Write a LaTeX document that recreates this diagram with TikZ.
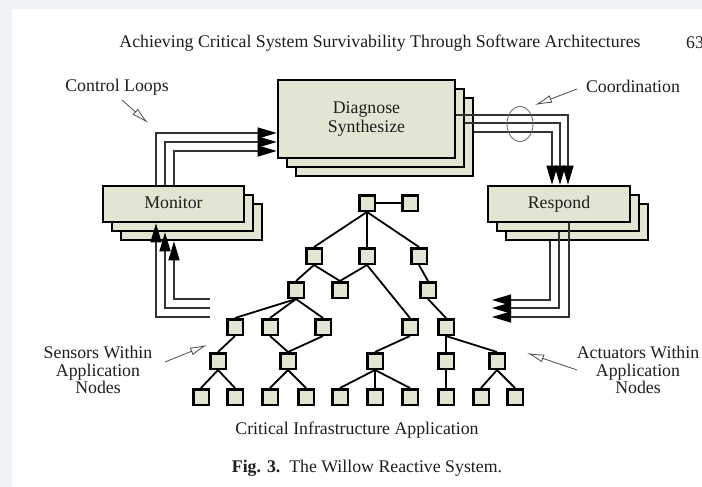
\documentclass[tikz,border=0pt]{standalone}
\usepackage{fontspec}
\setmainfont{Liberation Serif}
\usetikzlibrary{arrows.meta,shapes.geometric,calc}
\definecolor{bgc}{RGB}{238,243,248}
\definecolor{boxc}{RGB}{228,228,210}
\definecolor{txt}{RGB}{30,30,30}
\begin{document}
\begin{tikzpicture}[x=1pt,y=-1pt,
  lbl/.style={font=\fontsize{17.8}{17.5}\selectfont, align=center, inner sep=0pt, text=txt},
  bigbox/.style={draw=black, line width=2.6pt, fill=boxc, inner sep=0pt, text=txt,
                 font=\fontsize{17.8}{18.5}\selectfont, align=center},
  diagbox/.style={bigbox, minimum width=177pt, minimum height=78pt},
  smallbox/.style={bigbox, minimum width=142pt, minimum height=36pt},
  tn/.style={draw=black, line width=2.5pt, fill=boxc, minimum size=15.5pt, inner sep=0pt},
  edge/.style={line width=1.8pt, black},
  loopl/.style={line width=1.2pt, draw=black!80, -{Triangle[length=19pt,width=11pt,black]}},
  callout/.style={line width=0.8pt, draw=black!70, -{Latex[open,length=17pt,width=8pt]}},
]
\fill[bgc] (0,0) rectangle (702,487);
\fill[white] (12,9) rectangle (702,487);
\useasboundingbox (0,0) rectangle (702,487);

% texts
\node[lbl] (hdr) at (380,43) {Achieving Critical System Survivability Through Software Architectures};
\node[lbl, anchor=west] (pg) at (686,43) {63};
\node[lbl] (cl) at (117,87) {Control Loops};
\node[lbl] (co) at (633,86) {Coordination};
\node[lbl] (sn) at (98,370) {Sensors Within\\Application\\Nodes};
\node[lbl] (ac) at (638,370) {Actuators Within\\Application\\Nodes};
\node[lbl] (cia) at (357,430) {Critical Infrastructure Application};
\node[lbl] (fig) at (367,468) {\textbf{Fig. 3.}\ \ The Willow Reactive System.};

% stacked boxes
\node[diagbox] (dg3) at (384.5,137) {};
\node[diagbox] (dg2) at (375.5,128) {};
\node[diagbox] (dg1) at (366.5,119) {\raisebox{3pt}{\shortstack{Diagnose\\Synthesize}}};
\node[smallbox, minimum width=141pt] (mn3) at (191.5,222) {};
\node[smallbox, minimum width=141pt] (mn2) at (182.5,213) {};
\node[smallbox, minimum width=141pt] (mn1) at (173.5,204) {\raisebox{2pt}{Monitor}};
\node[smallbox] (rs3) at (577,222) {};
\node[smallbox] (rs2) at (568,213) {};
\node[smallbox] (rs1) at (559,204) {\raisebox{2pt}{Respond}};

% loop coordinates
\coordinate (cl1) at (156,133);
\coordinate (cl2) at (165,142);
\coordinate (cl3) at (174,151);
\coordinate (s1) at (210,317);
\coordinate (s2) at (210,308);
\coordinate (s3) at (210,299);
\coordinate (r1) at (568,115);
\coordinate (r2) at (560,123);
\coordinate (r3) at (552,132);
\coordinate (q1) at (569,317);
\coordinate (q2) at (559,308);
\coordinate (q3) at (550,300);
\coordinate (e1) at (492,317);
\coordinate (e2) at (492,308);
\coordinate (e3) at (492,300);

% monitor -> diagnose
\draw[loopl] (mn1.north -| cl1) |- (dg1.west |- cl1);
\draw[loopl] (mn1.north -| cl2) |- (dg1.west |- cl2);
\draw[loopl] (mn1.north -| cl3) |- (dg1.west |- cl3);
% sensors -> monitor
\draw[loopl] (s1) -| (mn1.south -| cl1);
\draw[loopl] (s2) -| (mn2.south -| cl2);
\draw[loopl] (s3) -| (mn3.south -| cl3);
% diagnose -> respond
\draw[loopl] (dg1.east |- r1) -| (rs1.north -| r1);
\draw[loopl] (dg2.east |- r2) -| (rs1.north -| r2);
\draw[loopl] (dg3.east |- r3) -| (rs1.north -| r3);
% respond -> actuators
\draw[loopl] (rs1.south -| q1) |- (e1);
\draw[loopl] (rs2.south -| q2) |- (e2);
\draw[loopl] (rs3.south -| q3) |- (e3);

% coordination ellipse
\node[draw=black!60, line width=0.8pt, ellipse, minimum width=26pt, minimum height=35pt, inner sep=0pt] (coel) at (520,124) {};

% callouts
\coordinate (ca1) at (122,100); \coordinate (ca2) at (148,123);
\coordinate (cb1) at (577,89);  \coordinate (cb2) at (535,105);
\coordinate (cc1) at (165,362); \coordinate (cc2) at (207,345);
\coordinate (cd1) at (577,370); \coordinate (cd2) at (527,353);
\draw[callout] (ca1) -- (ca2);
\draw[callout] (cb1) -- (cb2);
\draw[callout] (cc1) -- (cc2);
\draw[callout] (cd1) -- (cd2);

% tree nodes
\node[tn] (t0) at (367,203) {};
\node[tn] (t0r) at (410,203) {};
\node[tn] (ta1) at (314,256) {};
\node[tn] (ta2) at (367,256) {};
\node[tn] (ta3) at (419,256) {};
\node[tn] (tb1) at (296,290) {};
\node[tn] (tb2) at (340,290) {};
\node[tn] (tb3) at (428,290) {};
\node[tn] (tc1) at (235,327) {};
\node[tn] (tc2) at (270,327) {};
\node[tn] (tc3) at (323,327) {};
\node[tn] (tc4) at (410,327) {};
\node[tn] (tc5) at (446,327) {};
\node[tn] (td1) at (218,361) {};
\node[tn] (td2) at (288,361) {};
\node[tn] (td3) at (375,361) {};
\node[tn] (td4) at (446,361) {};
\node[tn] (td5) at (497,361) {};
\foreach \i/\x in {1/201,2/235,3/270,4/306,5/340,6/375,7/410,8/446,9/481,10/515}
  \node[tn] (te\i) at (\x,397) {};

% tree edges
\draw[edge] (t0.east) -- (t0r.west);
\foreach \p/\c in {t0/ta1,t0/ta2,t0/ta3,ta1/tb1,ta1/tb2,ta2/tb2,ta2/tc4,ta3/tb3,
  tb1/tc1,tb1/tc2,tb1/tc3,tb3/tc5,tc1/td1,tc2/td2,tc3/td2,tc4/td3,tc5/td4,tc5/td5,
  td1/te1,td1/te2,td2/te3,td2/te4,td3/te5,td3/te6,td3/te7,td4/te8,td5/te9,td5/te10}
  \draw[edge] (\p.south) -- (\c.north);
\end{tikzpicture}
\end{document}
